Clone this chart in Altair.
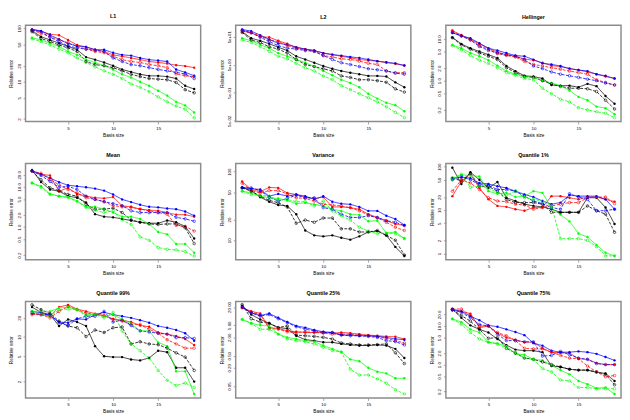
import altair as alt
import pandas as pd

BASIS = list(range(1, 20))

# ---------------- L1 ----------------
L1_BLK_F = [91, 70, 61, 53, 46, 40, 29, 26, 23, 20, 17, 15.3, 13.8, 12.9, 12.9, 12.5, 11.5, 8.4, 7.3]
L1_BLK_O = [87, 65, 57, 49, 43, 37, 24, 21, 20, 18.4, 16, 13.8, 12.5, 11.5, 11.2, 10.9, 9.7, 7.1, 6.2]
L1_RED_F = [96, 89, 78, 75, 61, 49, 45, 40, 37, 32, 30, 28, 26, 24, 23, 22, 20.5, 19.7, 18.4]
L1_RED_O = [93, 81, 70, 61, 54, 46, 41, 37, 35, 30, 26, 24, 23, 21, 20, 18.4, 14, 13, 12.5]
L1_BLU_F = [96, 90, 75, 63, 52, 47, 45, 40, 40, 35, 32, 31, 28, 26, 25, 24, 17, 15, 13]
L1_BLU_O = [93, 87, 68, 57, 47, 43, 41, 39, 37, 28, 24, 21, 20, 18.4, 17, 16, 15, 14, 11.5]
L1_GRN_F = [67, 61, 53, 46, 37, 32, 26, 23, 20, 17, 13.8, 12, 10, 8.4, 6.8, 5.5, 4.2, 3.6, 2.65]
L1_GRN_O = [64, 57, 49, 41, 35, 28, 23, 19, 16, 13.8, 11.5, 9.1, 7.9, 6.5, 5.2, 4.2, 3.5, 3.05, 2.1]

# ---------------- L2 ----------------
L2_BLK_F = [75, 44, 36, 28, 21, 16, 10, 7.7, 5.9, 4.5, 3.6, 3.0, 2.6, 2.3, 2.0, 2.0, 1.9, 1.18, 0.79]
L2_BLK_O = [71, 38, 31, 22, 18, 13, 7.7, 5.1, 4.3, 3.6, 3.0, 2.0, 1.76, 1.46, 1.46, 1.35, 1.18, 0.69, 0.53]
L2_RED_F = [79, 69, 50, 47.5, 36, 28, 21, 18, 16, 13, 11.5, 10, 8.8, 7.7, 7.1, 6.7, 5.9, 5.4, 4.7]
L2_RED_O = [81, 69, 53, 38, 33.5, 24, 19.6, 17, 15, 10.6, 9.5, 8.1, 7.7, 6.7, 5.6, 5.1, 3.0, 2.6, 2.6]
L2_BLU_F = [90, 79, 57, 40, 29, 26, 21, 18, 16, 13, 11.5, 10.6, 9.5, 8.8, 7.7, 6.7, 6.2, 5.6, 4.7]
L2_BLU_O = [85, 69, 47.5, 33.5, 24, 19.6, 18, 16, 15, 10.6, 7.7, 5.9, 5.1, 4.3, 3.6, 3.3, 3.0, 2.5, 2.3]
L2_GRN_F = [44, 36, 26, 19.6, 13, 10, 7.7, 5.9, 4.3, 3.0, 2.1, 1.46, 1.12, 0.79, 0.46, 0.31, 0.22, 0.18, 0.11]
L2_GRN_O = [38, 31, 22, 15, 10, 8.1, 5.6, 3.9, 3.0, 2.0, 1.46, 0.90, 0.65, 0.46, 0.33, 0.236, 0.158, 0.10, 0.065]

# ---------------- Hellinger ----------------
HE_BLK_F = [10.9, 7.6, 6.0, 5.0, 4.2, 3.5, 2.25, 1.7, 1.31, 1.26, 1.13, 0.79, 0.76, 0.76, 0.70, 0.84, 0.74, 0.43, 0.28]
HE_BLK_O = [10.7, 7.2, 5.7, 4.6, 3.85, 3.2, 2.05, 1.57, 1.26, 1.2, 1.0, 0.84, 0.73, 0.66, 0.66, 0.64, 0.55, 0.34, 0.21]
HE_RED_F = [15.7, 12.4, 9.8, 7.6, 6.0, 4.8, 4.2, 3.85, 3.3, 3.1, 2.7, 2.3, 2.17, 1.95, 1.8, 1.62, 1.43, 1.26, 1.13]
HE_RED_O = [15.7, 11.8, 9.5, 6.9, 5.7, 4.45, 4.0, 3.7, 2.9, 2.46, 2.25, 2.05, 1.88, 1.7, 1.57, 1.43, 1.05, 0.91, 0.79]
HE_BLU_F = [14.1, 11.8, 10.4, 7.9, 6.0, 5.3, 4.6, 4.0, 3.85, 3.2, 2.6, 2.46, 2.25, 1.95, 1.8, 1.7, 1.43, 1.31, 1.13]
HE_BLU_O = [14.1, 11.8, 9.5, 6.6, 5.3, 4.6, 4.2, 3.85, 3.2, 2.25, 1.95, 1.62, 1.43, 1.31, 1.2, 1.09, 1.0, 0.88, 0.79]
HE_GRN_F = [7.2, 6.0, 4.6, 3.85, 3.1, 2.3, 1.7, 1.43, 1.26, 1.2, 1.0, 0.88, 0.76, 0.58, 0.41, 0.34, 0.24, 0.22, 0.157]
HE_GRN_O = [6.9, 5.5, 4.0, 3.1, 2.6, 2.05, 1.57, 1.36, 1.13, 1.05, 0.66, 0.49, 0.36, 0.31, 0.225, 0.20, 0.18, 0.166, 0.13]

# ---------------- Mean ----------------
ME_BLK_F = [26.5, 13.2, 8.6, 7.8, 5.9, 5.4, 4.1, 2.1, 1.82, 1.75, 1.6, 1.46, 1.32, 1.25, 1.25, 1.46, 1.32, 1.04, 0.52]
ME_BLK_O = [25, 15.1, 9.5, 8.1, 6.5, 5.9, 3.7, 2.8, 2.8, 2.96, 2.3, 1.51, 1.32, 1.2, 1.16, 1.2, 1.2, 0.96, 0.39]
ME_RED_F = [25, 20.7, 19.3, 7.8, 9.5, 6.7, 5.9, 5.4, 5.2, 5.6, 3.4, 3.2, 2.8, 2.65, 2.55, 2.3, 2.04, 2.04, 1.82]
ME_RED_O = [25, 21.9, 15.1, 11.4, 8.6, 7.1, 5.4, 4.9, 4.3, 3.4, 3.2, 3.1, 2.8, 2.55, 2.3, 2.1, 1.1, 1.04, 0.80]
ME_BLU_F = [25, 20.7, 16.6, 13.2, 11, 10.4, 9.8, 9.1, 8.1, 6.5, 4.9, 4.2, 3.6, 3.2, 3.1, 2.9, 2.8, 2.45, 1.93]
ME_BLU_O = [25, 19.3, 13.7, 9.8, 10.4, 8.6, 5.9, 4.9, 4.3, 3.85, 3.4, 2.55, 2.3, 2.3, 2.3, 2.3, 1.75, 1.6, 1.4]
ME_GRN_F = [12.5, 10.4, 6.7, 5.9, 5.6, 4.5, 3.2, 3.2, 2.8, 2.3, 1.82, 1.82, 1.6, 1.2, 0.755, 0.66, 0.38, 0.38, 0.23]
ME_GRN_O = [12.5, 9.8, 6.5, 5.9, 5.4, 4.3, 3.1, 2.65, 2.3, 2.55, 1.51, 1.16, 0.57, 0.47, 0.31, 0.28, 0.27, 0.245, 0.19]

# ---------------- Variance ----------------
VA_BLK_F = [59, 53, 42.5, 36.5, 32.7, 31.6, 24, 13.9, 11.8, 11.4, 11.8, 10.9, 10.2, 11.4, 13.2, 13.6, 11.8, 8.0, 5.9]
VA_BLK_O = [58, 52, 44, 38.1, 35.3, 30.6, 17.7, 19.7, 18.3, 21.1, 21.1, 14.7, 14.7, 13.2, 13.2, 13.9, 11.8, 10, 6.1]
VA_RED_F = [72, 55, 51, 59, 58, 49, 46.4, 42.5, 40.7, 42.5, 30.6, 30.6, 29.9, 28.3, 24, 21.5, 19.3, 17.3, 16.4]
VA_RED_O = [68, 53, 49, 53, 53, 47.4, 41.6, 40.7, 37.3, 33.4, 32.7, 31.6, 29.9, 26.8, 23.5, 21.1, 18.3, 15.5, 13.9]
VA_BLU_F = [59, 56.5, 55, 44, 47.4, 44, 46.4, 44, 39.4, 44, 36.5, 34.1, 33.4, 30.6, 26.8, 26.8, 22.8, 20.4, 16.7]
VA_BLU_O = [58, 58, 53, 42.5, 37.3, 40.7, 45.4, 41.6, 41.6, 29.9, 28.3, 24, 21.5, 21.5, 22.8, 21.5, 19.3, 18.3, 16.4]
VA_GRN_F = [52, 49, 44, 41.6, 40.7, 38.1, 34.1, 35.3, 33.4, 31.6, 28.3, 26.8, 24, 23.5, 18.9, 19.3, 12.7, 13.2, 10.6]
VA_GRN_O = [52, 46.4, 45.4, 44, 38.1, 39.4, 36.5, 36.5, 31.6, 37.3, 26.8, 22.8, 19.7, 15.5, 13.6, 12.5, 12.7, 12.5, 10.6]

# ---------------- Quantile 1% ----------------
Q1_BLK_F = [95, 40, 74.5, 50, 32.4, 44.4, 19.3, 16.2, 13.7, 12.5, 11.9, 10.5, 8.9, 8.9, 8.9, 19.3, 19.3, 11.5, 4.8]
Q1_BLK_O = [54.6, 47.5, 70.8, 35.4, 35.4, 27.3, 17.7, 14.9, 14.9, 14.9, 13.7, 8.9, 8.9, 8.9, 8.9, 12.5, 9.7, 8.1, 3.1]
Q1_RED_F = [21, 45.9, 67.2, 32.4, 17.7, 12.5, 11.9, 10.5, 9.7, 11.5, 11.5, 21, 21, 19.3, 17.7, 20, 20, 17.7, 15.7]
Q1_RED_O = [27.3, 50, 42.1, 29.8, 19.3, 16.2, 15.7, 13.7, 13.2, 10.5, 11.5, 12.5, 13.7, 14.9, 14.9, 19.3, 20, 20, 14.1]
Q1_BLU_F = [54.6, 56.5, 54.6, 42.1, 40, 35.4, 32.4, 27.3, 23, 20, 16.2, 13.7, 14.9, 22.2, 21, 21, 21, 17.7, 10.5]
Q1_BLU_O = [50, 59.5, 50, 38.6, 37.3, 29.8, 29.8, 27.3, 21, 16.2, 14.1, 11.5, 10.5, 23.8, 20, 17.7, 9.7, 9.7, 10.5]
Q1_GRN_F = [50, 64.9, 62.7, 59.5, 27.3, 23.8, 25, 20, 21, 27.3, 25, 11.1, 7.9, 5.5, 2.9, 2.4, 1.57, 1.05, 0.885]
Q1_GRN_O = [54.6, 67.2, 33.6, 35.4, 32.4, 25, 22.2, 27.3, 19.3, 17.7, 16.2, 12.5, 2.2, 2.2, 2.2, 2.0, 1.44, 0.885, 0.885]

# ---------------- Quantile 99% ----------------
Q99_BLK_F = [29.5, 24.4, 22.5, 14.9, 18.9, 17.2, 14.9, 7.2, 5.0, 4.85, 4.85, 4.45, 4.3, 4.7, 6.1, 5.8, 3.3, 3.3, 2.0]
Q99_BLK_O = [32, 26.9, 23.3, 17.8, 14.9, 14, 10.2, 12.9, 11.8, 14, 14.4, 7.8, 8.45, 7.8, 7.6, 6.7, 5.65, 4.85, 3.0]
Q99_RED_F = [23.3, 22.5, 21.2, 29.5, 32, 27.5, 25.3, 23.3, 21.7, 19.3, 18.4, 17.2, 15.2, 14.5, 11.8, 11.1, 10.4, 9.3, 7.5]
Q99_RED_O = [22.5, 22.5, 20, 25.3, 30.2, 26.9, 23.9, 22.5, 21.7, 18.9, 17.8, 15.8, 15.8, 13.2, 11.5, 9.1, 7.8, 6.7, 6.7]
Q99_BLU_F = [25.3, 23.9, 21.7, 17.2, 16.8, 19.3, 18.9, 22.5, 24.4, 22.5, 21.2, 20, 18.4, 16.8, 14.9, 14, 12.9, 11.5, 8.75]
Q99_BLU_O = [23.9, 22.5, 22.5, 16.8, 15.2, 19.3, 21.2, 21.2, 25.3, 17.2, 18.4, 15.2, 12.5, 12, 11.5, 11.1, 9.8, 9.8, 9.5]
Q99_GRN_F = [25.3, 25.3, 25.3, 28.5, 29.5, 26.9, 22.5, 22.5, 21.2, 22.5, 18.9, 16.4, 12.5, 12.5, 8.25, 7.2, 2.9, 2.9, 1.28]
Q99_GRN_O = [25.3, 22.5, 21.2, 26.9, 27.5, 26.9, 21.2, 22.5, 20, 24.4, 12.5, 7.8, 6.1, 4.7, 3.0, 2.1, 1.74, 1.9, 1.62]

# ---------------- Quantile 25% ----------------
Q25_BLK_F = [22.1, 11.3, 7.8, 5.8, 4.2, 3.9, 2.26, 1.68, 1.56, 1.38, 1.38, 1.22, 1.13, 1.08, 1.08, 1.13, 1.08, 0.84, 0.42]
Q25_BLK_O = [23.8, 8.2, 6.4, 5.8, 4.2, 4.75, 2.38, 2.26, 2.15, 2.0, 1.77, 1.31, 1.22, 1.13, 1.13, 1.16, 1.22, 0.625, 0.276]
Q25_RED_F = [18.6, 14.5, 12.2, 4.2, 3.9, 3.3, 3.05, 2.9, 2.9, 2.9, 2.76, 2.9, 2.76, 2.56, 2.38, 2.26, 2.15, 2.1, 1.77]
Q25_RED_O = [18.6, 13.5, 11.3, 3.9, 3.7, 3.05, 2.9, 3.05, 2.9, 2.76, 2.56, 2.56, 2.56, 2.38, 2.26, 2.15, 1.86, 1.56, 1.31]
Q25_BLU_F = [20, 12.8, 10.5, 12.2, 8.8, 6.4, 4.75, 4.2, 3.5, 3.05, 2.9, 2.38, 2.38, 2.26, 2.26, 2.15, 2.0, 1.77, 1.68]
Q25_BLU_O = [20, 12.8, 10, 11.3, 8.2, 6.1, 4.5, 3.7, 3.3, 2.9, 2.9, 2.38, 2.26, 2.26, 2.15, 2.0, 1.56, 1.45, 1.13]
Q25_GRN_F = [7.8, 5.8, 5.0, 4.75, 2.56, 2.0, 1.77, 1.56, 1.45, 1.08, 0.84, 0.66, 0.38, 0.33, 0.2, 0.149, 0.131, 0.091, 0.091]
Q25_GRN_O = [7.8, 5.8, 3.7, 3.7, 2.56, 1.77, 1.56, 1.45, 1.22, 0.95, 0.74, 0.66, 0.18, 0.116, 0.116, 0.086, 0.0625, 0.038, 0.0276]

# ---------------- Quantile 75% ----------------
Q75_BLK_F = [27.6, 16.3, 10.4, 8.2, 6.8, 4.6, 3.2, 2.45, 2.3, 2.3, 2.1, 0.92, 0.87, 0.76, 0.72, 0.72, 0.63, 0.59, 0.377]
Q75_BLK_O = [26.5, 18.7, 13.4, 8.2, 4.8, 5.0, 2.65, 2.0, 1.48, 1.37, 1.17, 1.0, 0.87, 0.76, 0.72, 0.72, 0.65, 0.56, 0.30]
Q75_RED_F = [27.6, 24, 21, 9.1, 10, 6.5, 5.0, 4.4, 3.8, 3.8, 2.65, 2.1, 2.0, 2.0, 1.42, 1.37, 1.1, 1.0, 1.0]
Q75_RED_O = [27.6, 27.6, 18.7, 10, 10, 6.8, 5.6, 4.2, 2.65, 2.55, 2.55, 2.1, 1.73, 1.48, 1.42, 0.92, 0.65, 0.485, 0.52]
Q75_BLU_F = [25.5, 24, 17.9, 14.2, 10.4, 9.6, 8.2, 7.0, 5.8, 3.6, 3.1, 2.3, 2.1, 2.1, 2.2, 2.1, 1.9, 1.57, 1.29]
Q75_BLU_O = [26.5, 22.7, 16.3, 11, 10, 6.1, 4.2, 4.2, 3.9, 3.9, 1.66, 1.73, 2.2, 1.8, 1.48, 1.37, 1.06, 1.0, 1.0]
Q75_GRN_F = [15.3, 12.6, 8.2, 6.8, 3.8, 3.55, 3.0, 1.9, 1.8, 1.37, 1.29, 0.96, 0.72, 0.56, 0.377, 0.31, 0.245, 0.255, 0.173]
Q75_GRN_O = [15.3, 11, 6.8, 4.6, 3.8, 3.4, 2.65, 2.1, 1.48, 1.37, 0.79, 0.65, 0.40, 0.377, 0.255, 0.255, 0.236, 0.236, 0.236]

TITLES = ["L1", "L2", "Hellinger", "Mean", "Variance", "Quantile 1%",
          "Quantile 99%", "Quantile 25%", "Quantile 75%"]

SERIES = {
    "L1": [L1_BLK_F, L1_BLK_O, L1_RED_F, L1_RED_O, L1_BLU_F, L1_BLU_O, L1_GRN_F, L1_GRN_O],
    "L2": [L2_BLK_F, L2_BLK_O, L2_RED_F, L2_RED_O, L2_BLU_F, L2_BLU_O, L2_GRN_F, L2_GRN_O],
    "Hellinger": [HE_BLK_F, HE_BLK_O, HE_RED_F, HE_RED_O, HE_BLU_F, HE_BLU_O, HE_GRN_F, HE_GRN_O],
    "Mean": [ME_BLK_F, ME_BLK_O, ME_RED_F, ME_RED_O, ME_BLU_F, ME_BLU_O, ME_GRN_F, ME_GRN_O],
    "Variance": [VA_BLK_F, VA_BLK_O, VA_RED_F, VA_RED_O, VA_BLU_F, VA_BLU_O, VA_GRN_F, VA_GRN_O],
    "Quantile 1%": [Q1_BLK_F, Q1_BLK_O, Q1_RED_F, Q1_RED_O, Q1_BLU_F, Q1_BLU_O, Q1_GRN_F, Q1_GRN_O],
    "Quantile 99%": [Q99_BLK_F, Q99_BLK_O, Q99_RED_F, Q99_RED_O, Q99_BLU_F, Q99_BLU_O, Q99_GRN_F, Q99_GRN_O],
    "Quantile 25%": [Q25_BLK_F, Q25_BLK_O, Q25_RED_F, Q25_RED_O, Q25_BLU_F, Q25_BLU_O, Q25_GRN_F, Q25_GRN_O],
    "Quantile 75%": [Q75_BLK_F, Q75_BLK_O, Q75_RED_F, Q75_RED_O, Q75_BLU_F, Q75_BLU_O, Q75_GRN_F, Q75_GRN_O],
}

SERIES_NAMES = ["blk_f", "blk_o", "red_f", "red_o", "blu_f", "blu_o", "grn_f", "grn_o"]
SERIES_COLORS = ["#000000", "#000000", "#ff0000", "#ff0000", "#0000ff", "#0000ff", "#00ff00", "#00ff00"]
SERIES_STYLE = ["f", "o", "f", "o", "f", "o", "f", "o"]

Y_DOMAIN = {
    "L1": [1.79, 115], "L2": [0.047, 128], "Hellinger": [0.105, 21.3],
    "Mean": [0.154, 38.5], "Variance": [5.2, 132], "Quantile 1%": [0.72, 119],
    "Quantile 99%": [1.11, 36], "Quantile 25%": [0.0205, 30], "Quantile 75%": [0.137, 43],
}
Y_TICKS = {
    "L1": [2, 5, 10, 20, 50, 100], "L2": [0.05, 0.5, 5, 50],
    "Hellinger": [0.2, 0.5, 1, 2, 5, 10], "Mean": [0.2, 0.5, 1, 2, 5, 10, 20],
    "Variance": [10, 20, 50, 100], "Quantile 1%": [1, 2, 5, 10, 20, 50, 100],
    "Quantile 99%": [2, 5, 10, 20], "Quantile 25%": [0.02, 0.05, 0.2, 0.5, 2, 5, 20],
    "Quantile 75%": [0.2, 0.5, 1, 2, 5, 10, 20],
}
Y_FORMAT = {
    "L1": ".0f", "Hellinger": ".1f", "Mean": ".1f", "Variance": ".0f",
    "Quantile 1%": ".0f", "Quantile 99%": ".0f", "Quantile 25%": ".2f", "Quantile 75%": ".1f",
}

rows = []
for t in TITLES:
    for name, col, sty, vals in zip(SERIES_NAMES, SERIES_COLORS, SERIES_STYLE, SERIES[t]):
        for xv, v in zip(BASIS, vals):
            rows.append({"panel": t, "series": name, "color": col, "style": sty, "x": xv, "value": v})
df = pd.DataFrame(rows)

FONT = "Liberation Sans"
GRAY = "#8c8c8c"


def panel(t):
    d = df[df["panel"] == t]
    yaxis_kw = dict(values=Y_TICKS[t], title="Relative error", labelAngle=270,
                    labelAlign="center", labelBaseline="bottom", grid=False)
    if t == "L2":
        yaxis_kw["labelExpr"] = ("datum.value < 0.1 ? '5e-02' : datum.value < 1 ? '5e-01' : "
                                 "datum.value < 10 ? '5e+00' : '5e+01'")
    else:
        yaxis_kw["format"] = Y_FORMAT[t]
    x = alt.X("x:Q", scale=alt.Scale(domain=[0.28, 19.72], nice=False, zero=False),
              axis=alt.Axis(values=[5, 10, 15], title="Basis size", grid=False, format="d"))
    y = alt.Y("value:Q", scale=alt.Scale(type="log", domain=Y_DOMAIN[t], nice=False),
              axis=alt.Axis(**yaxis_kw))
    base = alt.Chart(d)
    lines = base.mark_line(strokeWidth=0.8).encode(
        x=x, y=y,
        color=alt.Color("color:N", scale=None),
        strokeDash=alt.StrokeDash("style:N", scale=alt.Scale(domain=["f", "o"], range=[[1, 0], [3, 1.5]]), legend=None),
        detail="series:N",
    )
    pf = base.transform_filter(alt.datum.style == "f").mark_point(filled=True, size=6, opacity=1).encode(
        x=x, y=y, color=alt.Color("color:N", scale=None))
    po = base.transform_filter(alt.datum.style == "o").mark_point(filled=False, size=7, strokeWidth=0.6, opacity=1).encode(
        x=x, y=y, color=alt.Color("color:N", scale=None))
    return alt.layer(lines, pf, po).properties(
        width=180, height=99,
        title=alt.TitleParams(t, fontSize=5.5, fontWeight="bold", font=FONT, offset=5, color="#000"),
    )


rows_charts = []
for r in range(3):
    rows_charts.append(alt.hconcat(*[panel(TITLES[r * 3 + c]) for c in range(3)], spacing=17))

chart = alt.vconcat(*rows_charts, spacing=13).configure(
    background="white", padding=0
).configure_view(
    stroke=GRAY, strokeWidth=1.5
).configure_axis(
    labelFont=FONT, titleFont=FONT, labelFontSize=4.5, titleFontSize=4.8,
    labelColor="#000", titleColor="#000", titleFontWeight="normal",
    domain=False, tickColor=GRAY, tickSize=2.5, tickWidth=0.8,
    labelPadding=1.5, titlePadding=3,
)

chart.save("out.html", embed_options={"renderer": "svg", "actions": False})
